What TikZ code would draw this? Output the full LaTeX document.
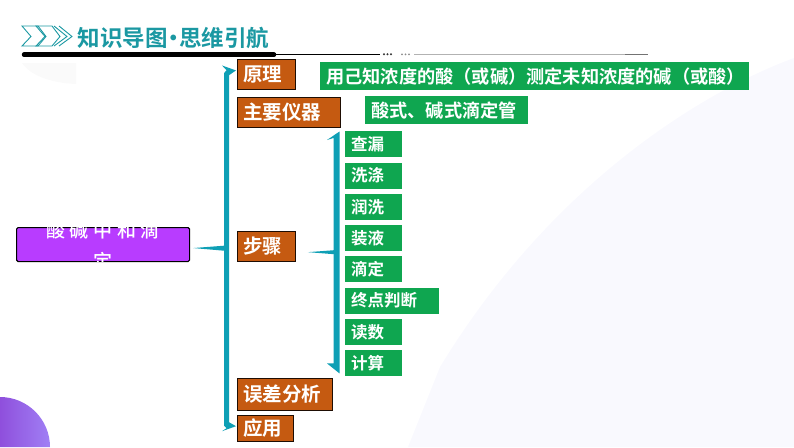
\documentclass[tikz,border=0pt]{standalone}
\usepackage{fontspec}
\setmainfont{Noto Sans CJK SC}[BoldFont={Noto Sans CJK SC Bold}]
\newfontfamily\boldcjk{Noto Sans CJK SC Bold}
\newfontfamily\rootcjk[LetterSpace=24]{Noto Sans CJK SC Medium}
\usetikzlibrary{calc}
\definecolor{brownfill}{HTML}{C55A11}
\definecolor{greenfill}{HTML}{0FA650}
\definecolor{tealline}{HTML}{0E9FB5}
\definecolor{titleteal}{HTML}{1B98A2}
\definecolor{rootfill}{HTML}{B83CFF}
\definecolor{bgtint}{HTML}{F9F9FE}
\definecolor{orbleft}{HTML}{8F4FDC}
\definecolor{orbright}{HTML}{A080F5}
\tikzset{
  brownbox/.style={draw=black!85!brownfill,line width=0.9pt,fill=brownfill,text=white,anchor=north west,inner xsep=6.5pt,inner ysep=0pt,align=left,font=\boldcjk\fontsize{19.5}{20}\selectfont},
  greenbox/.style={fill=greenfill,text=white,anchor=north west,inner xsep=6pt,inner ysep=0pt,align=left,font=\boldcjk\fontsize{18.2}{20}\selectfont},
  stepbox/.style={fill=greenfill,text=white,anchor=north west,inner xsep=6pt,inner ysep=0pt,align=left,font=\boldcjk\fontsize{16.5}{18}\selectfont,minimum height=26pt},
  connector/.style={fill=tealline,draw=none},
}
\begin{document}
\begin{tikzpicture}[x=1pt,y=-1pt]
\useasboundingbox (0,0) rectangle (794,447);
% background tints
\fill[bgtint] (794,58) .. controls (720,85) and (560,170) .. (440,367) -- (408,447) -- (794,447) -- cycle;
\fill[black!2] (22,63) .. controls (30,75) and (50,83) .. (76,84) -- (76,63) -- cycle;
\shade[left color=orbleft,right color=orbright] (0,447) -- (0,397) arc[start angle=90,end angle=0,radius=50pt] -- cycle;
% header
\foreach \dx in {0,14}{
  \draw[titleteal,line width=0.9pt] (22+\dx,26) -- (38+\dx,26) -- (46+\dx,36.5) -- (38+\dx,46) -- (22+\dx,46) -- (31+\dx,36.5) -- cycle;
}
\foreach \dx in {30,35}{
  \draw[titleteal,line width=0.9pt] (24+\dx,26) -- (37+\dx,36.5) -- (24+\dx,46);
}
\node[anchor=west,inner sep=0pt,text=titleteal,font=\boldcjk\fontsize{22.5}{24}\selectfont] (title) at (77.5,38) {知识导图\hspace{-5.5pt}·\hspace{-5.5pt}思维引航};
\draw[black,line width=4.5pt,line cap=round] (24,54.7) -- (274,54.7);
\draw[black,line width=0.8pt] (274,54) -- (380,54);
\foreach \x in {384,387.5,391}{\fill[black!80] (\x,54.3) circle (1.1pt);}
\foreach \x in {402,405.5,409}{\fill[black!45] (\x,54.3) circle (1pt);}
\draw[black!30,line width=0.6pt] (414,54.3) -- (625,54.3);
\draw[black!55,line width=1.6pt] (625,54.3) -- (648,54.3);
% root
\node[draw=black,line width=1.1pt,rounded corners=1.5pt,fill=rootfill,anchor=north west,minimum width=173pt,minimum height=34pt,inner sep=0pt] (root) at (16,227) {};
\begin{scope}
\clip (16,227) rectangle (189,261);
\node[text=white,align=center,inner sep=0pt,font=\rootcjk\fontsize{19}{31}\selectfont] (roottext) at (103,246) {酸碱中和滴\\定};
\end{scope}
% brown
\node[brownbox,text width=45.5pt,minimum height=29.5pt] (yuanli) at (236.5,59) {原理};
\node[brownbox,text width=90.5pt,minimum height=29.5pt] (yiqi) at (236.5,97) {主要仪器};
\node[brownbox,text width=45.5pt,minimum height=30pt] (buzhou) at (236.5,231) {步骤};
\node[brownbox,text width=82.5pt,minimum height=32.5pt] (wucha) at (236.5,377.5) {误差分析};
\node[brownbox,text width=43pt,minimum height=26.5pt] (yingyong) at (236.5,414.5) {应用};
% green
\node[greenbox,text width=417pt,minimum height=28pt] (yl) at (320,62) {用己知浓度的酸（或碱）测定未知浓度的碱（或酸）};
\node[greenbox,text width=151pt,minimum height=28pt] (yq) at (365,96) {酸式、碱式滴定管};
\node[stepbox,text width=45pt] (s1) at (345,131) {查漏};
\node[stepbox,text width=45pt] (s2) at (345,162.3) {洗涤};
\node[stepbox,text width=45pt] (s3) at (345,193.6) {润洗};
\node[stepbox,text width=45pt] (s4) at (345,225) {装液};
\node[stepbox,text width=45pt] (s5) at (345,256) {滴定};
\node[stepbox,text width=81.5pt] (s6) at (345,287.3) {终点判断};
\node[stepbox,text width=45pt] (s7) at (345,318.7) {读数};
\node[stepbox,text width=45pt] (s8) at (345,350) {计算};
% main bracket
\coordinate (mt) at (yuanli.west);
\coordinate (mb) at (yingyong.west);
\fill[connector] ($(mt)+(-0.5,-3.75)$) -- ($(mt)+(-14.5,-8.75)$) -- ($(mt)+(-10,-4)$) -- ($(mt)+(-12.5,-1)$) -- ($(mb)+(-12.5,-2.5)$) -- ($(mb)+(-10,0)$) -- ($(mb)+(-14.5,3)$) -- ($(mb)+(-0.5,-2)$) -- ($(mb)+(-7.5,-6)$) -- ($(mt)+(-7.5,1)$) -- cycle;
\fill[connector] ($(root.east)+(3,3.5)$) -- ($(mt)!0.5!(mb)+(-12.5,-5.5)$) -- ($(mt)!0.5!(mb)+(-12.5,-0.5)$) -- cycle;
% step bracket
\coordinate (st) at (s1.north west);
\coordinate (sb) at (s8.south west);
\fill[connector] ($(st)+(-5.5,0.5)$) -- ($(st)+(-18,9)$) -- ($(st)+(-11.5,7)$) -- ($(sb)+(-11.5,-13)$) -- ($(sb)+(-18,-13)$) -- ($(sb)+(-5.5,-3)$) -- cycle;
\fill[connector] ($(buzhou.east)+(12,5.7)$) -- ($(s4.west)+(-11,12)$) -- ($(s4.west)+(-11,16)$) -- cycle;
\end{tikzpicture}
\end{document}
